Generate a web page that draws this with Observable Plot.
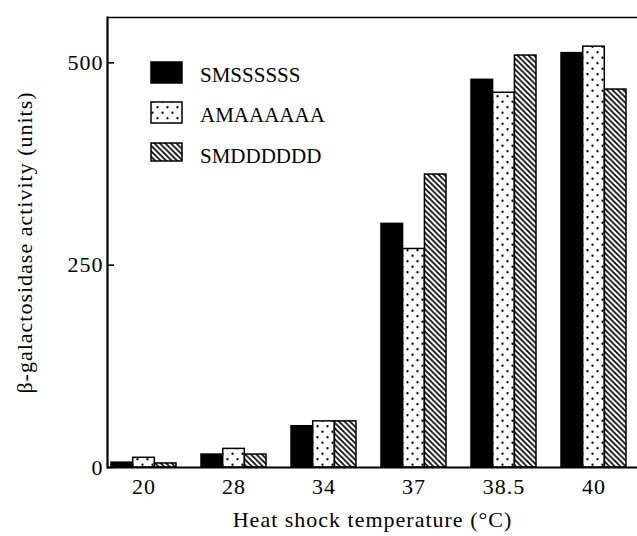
<!DOCTYPE html>
<html><head><meta charset="utf-8">
<script src="https://cdn.jsdelivr.net/npm/d3@7"></script>
<script src="https://cdn.jsdelivr.net/npm/@observablehq/plot@0.6"></script>
<style>
body{margin:0;background:#fff}
#chart{position:relative;width:637px;height:536px}
</style>
</head><body>
<svg width="0" height="0" style="position:absolute">
<defs>
<pattern id="dots" patternUnits="userSpaceOnUse" width="10" height="11">
 <rect width="10" height="11" fill="#fff"/>
 <circle cx="2.5" cy="2.75" r="1.15" fill="#000"/>
 <circle cx="7.5" cy="8.25" r="1.15" fill="#000"/>
</pattern>
<pattern id="hatch" patternUnits="userSpaceOnUse" width="5.5" height="5.5">
 <rect width="5.5" height="5.5" fill="#fff"/>
 <path d="M-1,-1L6.5,6.5M-1,4.5L1,6.5M4.5,-1L6.5,1" stroke="#000" stroke-width="1.7"/>
</pattern>
</defs></svg>
<div id="chart"></div>
<script>
// ---- data ----
const temperatures = ["20", "28", "34", "37", "38.5", "40"];
const seriesNames = ["SMSSSSSS", "AMAAAAAA", "SMDDDDDD"];
const smsValues = [6, 16, 51, 301, 479, 512];
const amaValues = [12, 23, 57, 270, 463, 520];
const smdValues = [5, 16, 57, 362, 509, 467];
const yTicks = [0, 250, 500];
const seriesFills = ["#000", "url(#dots)", "url(#hatch)"];
const yLabel = "β-galactosidase activity (units)";
const xLabel = "Heat shock temperature (°C)";

const seriesValues = [smsValues, amaValues, smdValues];
const yMax = 556;

const W = 637, H = 536, mL = 107, mR = 0, mT = 17, mB = 69;
const xOpts = {domain: temperatures, paddingInner: 0.28, paddingOuter: 0.069, align: 0.24};
const bw = d3.scaleBand().domain(temperatures).range([mL, W - mR])
  .paddingInner(xOpts.paddingInner).paddingOuter(xOpts.paddingOuter).align(xOpts.align).bandwidth();
const sub = bw / seriesNames.length;

const barMarks = seriesNames.map((name, j) => {
  const rows = temperatures.map((t, i) => ({temp: t, value: seriesValues[j][i], series: name}));
  return Plot.barY(rows, {
    x: "temp", y: "value",
    fill: seriesFills[j], stroke: "#000", strokeWidth: 1.5,
    insetLeft: j * sub, insetRight: (seriesNames.length - 1 - j) * sub
  });
});

const plot = Plot.plot({
  width: W, height: H,
  marginLeft: mL, marginRight: mR, marginTop: mT, marginBottom: mB,
  style: {fontFamily: "'Liberation Serif', 'Times New Roman', serif", fontSize: "22px", letterSpacing: "1px", color: "#000", background: "#fff"},
  x: {...xOpts},
  y: {domain: [0, yMax]},
  marks: [
    ...barMarks,
    Plot.ruleY([0], {strokeWidth: 2.2}),
    Plot.ruleY([yMax], {strokeWidth: 1.6}),
    Plot.frame({anchor: "left", strokeWidth: 2.2}),
    Plot.axisY({ticks: yTicks, tickSize: -7, tickPadding: 11, strokeWidth: 1.6,
      label: yLabel, labelAnchor: "center", labelOffset: 91, labelArrow: "none"}),
    Plot.axisX({tickSize: 0, tickPadding: 11, label: xLabel, labelAnchor: "center", labelOffset: 59, labelArrow: "none"})
  ]
});

// legend
const svg = d3.select(plot);
const lg = svg.append("g").attr("class", "legend");
const legY = [62, 102, 143];
const legH = [21, 21, 18];
seriesNames.forEach((name, j) => {
  lg.append("rect").attr("x", 151).attr("y", legY[j]).attr("width", 31).attr("height", legH[j])
    .attr("fill", seriesFills[j]).attr("stroke", "#000").attr("stroke-width", 1.5);
  lg.append("text").attr("x", 200).attr("y", legY[j] + 19.5)
    .attr("text-anchor", "start")
    .attr("font-size", 21).attr("letter-spacing", "0px").attr("fill", "#000").text(name);
});

document.getElementById("chart").appendChild(plot);
</script>
</body></html>
